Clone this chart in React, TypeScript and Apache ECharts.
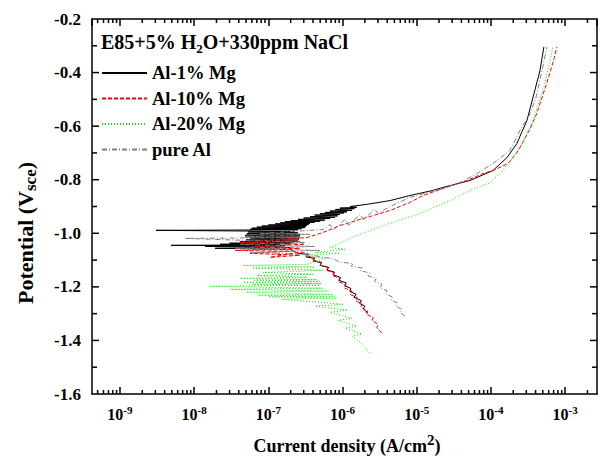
import React, { useEffect, useRef } from "react";
import * as echarts from "echarts";

const FONT = '"Liberation Serif", "Times New Roman", serif';

// axis ranges
const xMin = 4.2e-10;
const xMax = 2.69e-3;
const yMin = -1.6;
const yMax = -0.2;
const yStep = 0.2;

const seriesNames = ["Al-1% Mg", "Al-10% Mg", "Al-20% Mg", "pure Al"];
const seriesColors = ["#000000", "#ff0000", "#00ee00", "#808080"];

// [current density (A/cm2), potential (V_sce)] in scan order
const al1Mg: [number, number][] = [
  [2.2e-6, -1.298], [1.9e-6, -1.282], [2.0e-6, -1.272], [1.7e-6, -1.262], [1.8e-6, -1.252],
  [1.43e-6, -1.239], [1.52e-6, -1.228], [1.25e-6, -1.216], [1.3e-6, -1.206], [1.07e-6, -1.196],
  [1.12e-6, -1.185], [9.0e-7, -1.176], [9.4e-7, -1.165], [7.5e-7, -1.155], [7.8e-7, -1.145],
  [6.2e-7, -1.137], [6.5e-7, -1.127], [5.0e-7, -1.12], [5.2e-7, -1.11], [4.0e-7, -1.103],
  [4.2e-7, -1.094], [3.21e-7, -1.088], [3.42e-7, -1.079], [2.51e-7, -1.075], [1.96e-7, -1.06],
  [1.91e-8, -1.056], [1.96e-7, -1.053], [1.4e-8, -1.049], [1.67e-7, -1.047], [4.87e-9, -1.045],
  [1.43e-7, -1.043], [2.23e-8, -1.041], [1.96e-7, -1.039], [3.0e-8, -1.037], [2.2e-7, -1.035],
  [4.14e-8, -1.032], [2.51e-7, -1.029], [5.0e-8, -1.025], [2.6e-7, -1.021],
  [5.65e-8, -1.018], [2.67e-7, -1.016], [4.84e-8, -1.013], [2.67e-7, -1.01], [4.9e-8, -1.007],
  [2.67e-7, -1.004], [5.15e-8, -1.001], [2.5e-7, -0.998], [5.3e-8, -0.995], [2.28e-7, -0.993],
  [3.06e-9, -0.989], [2.51e-7, -0.987], [5.65e-8, -0.985], [2.8e-7, -0.983], [6.0e-8, -0.981],
  [3.11e-7, -0.979], [7.0e-8, -0.977], [3.2e-7, -0.975], [8.2e-8, -0.973], [3.31e-7, -0.971],
  [1.0e-7, -0.969], [3.5e-7, -0.967], [1.23e-7, -0.965], [3.64e-7, -0.963], [1.45e-7, -0.961],
  [4.2e-7, -0.959], [1.67e-7, -0.957], [5.0e-7, -0.955], [2.0e-7, -0.953], [5.79e-7, -0.951],
  [2.51e-7, -0.948], [6.8e-7, -0.945], [3.0e-7, -0.943], [7.91e-7, -0.941], [3.64e-7, -0.938],
  [8.6e-7, -0.935], [4.2e-7, -0.932], [9.23e-7, -0.93], [4.96e-7, -0.927], [1.05e-6, -0.924],
  [5.8e-7, -0.922], [1.15e-6, -0.92], [6.76e-7, -0.917], [1.34e-6, -0.914], [8.0e-7, -0.911],
  [1.45e-6, -0.908], [9.23e-7, -0.906], [1.56e-6, -0.903], [1.26e-6, -0.9], [2.13e-6, -0.892],
  [4.35e-6, -0.878], [8.09e-6, -0.859], [1.65e-5, -0.84], [2.25e-5, -0.829], [5.21e-5, -0.803],
  [1.06e-4, -0.766], [1.64e-4, -0.718], [2.24e-4, -0.665], [2.62e-4, -0.621], [3.05e-4, -0.58],
  [3.68e-4, -0.494], [4.57e-4, -0.394], [5.18e-4, -0.304],
];

const al10Mg: [number, number][] = [
  [3.4e-6, -1.373], [2.9e-6, -1.352], [3.0e-6, -1.34], [2.5e-6, -1.326], [2.6e-6, -1.314],
  [2.07e-6, -1.302], [2.2e-6, -1.29], [1.75e-6, -1.276], [1.85e-6, -1.264], [1.5e-6, -1.252],
  [1.58e-6, -1.24], [1.26e-6, -1.228], [1.34e-6, -1.216], [1.05e-6, -1.204], [1.12e-6, -1.192],
  [8.7e-7, -1.18], [9.2e-7, -1.168], [7.3e-7, -1.158], [7.7e-7, -1.147], [6.0e-7, -1.138],
  [6.3e-7, -1.127], [4.9e-7, -1.118], [5.2e-7, -1.108], [3.9e-7, -1.1], [4.2e-7, -1.09],
  [3.21e-7, -1.084], [3.42e-7, -1.075], [2.51e-7, -1.071],
  [1.05e-7, -1.09], [2.67e-7, -1.082], [5.65e-8, -1.075],
  [1.96e-7, -1.067], [3.55e-8, -1.064], [2.67e-7, -1.056], [6.59e-8, -1.049], [3.11e-7, -1.041],
  [4.14e-8, -1.034], [2.67e-7, -1.03], [7.71e-8, -1.027], [3.31e-7, -1.016], [5.44e-7, -0.997],
  [9.23e-7, -0.971], [1.56e-6, -0.952], [4.35e-6, -0.915], [8.09e-6, -0.885], [1.21e-5, -0.859],
  [2.25e-5, -0.833], [4.75e-5, -0.803], [7.8e-5, -0.777], [1.06e-4, -0.766], [1.69e-4, -0.74],
  [2.24e-4, -0.699], [2.78e-4, -0.654], [3.36e-4, -0.61], [4.04e-4, -0.561], [4.72e-4, -0.505],
  [5.51e-4, -0.449], [6.24e-4, -0.401], [7.06e-4, -0.349], [7.75e-4, -0.304],
];

const al20Mg: [number, number][] = [
  [2.34e-6, -1.447], [1.72e-6, -1.406], [1.34e-6, -1.384], [1.83e-6, -1.376], [1.08e-6, -1.354],
  [1.56e-6, -1.347], [8.67e-7, -1.325], [1.34e-6, -1.317], [6.76e-7, -1.295], [1.18e-6, -1.287],
  [4.25e-7, -1.272], [1.01e-6, -1.265], [1.52e-7, -1.246], [8.41e-7, -1.242], [1.0e-7, -1.237],
  [8.0e-7, -1.235], [7.24e-8, -1.231], [7.43e-7, -1.228], [5.0e-8, -1.22], [6.5e-7, -1.216],
  [3.04e-8, -1.209], [5.44e-7, -1.205], [1.63e-8, -1.198], [4.96e-7, -1.194], [6.0e-8, -1.19],
  [5.2e-7, -1.187], [4.55e-8, -1.183], [4.96e-7, -1.179], [6.5e-8, -1.175], [4.5e-7, -1.172],
  [4.14e-8, -1.168], [3.31e-7, -1.164], [7.0e-8, -1.158], [4.0e-7, -1.153], [8.46e-8, -1.146],
  [5.44e-7, -1.138], [6.0e-8, -1.13], [4.2e-7, -1.126], [4.55e-8, -1.12], [3.31e-7, -1.116],
  [5.79e-7, -1.094], [3.11e-7, -1.082], [9.23e-7, -1.075], [4.25e-7, -1.071], [1.08e-6, -1.06],
  [6.76e-7, -1.053], [1.56e-6, -1.008], [4.35e-6, -0.963], [1.1e-5, -0.926], [2.8e-5, -0.878],
  [5.21e-5, -0.84], [9.7e-5, -0.811], [1.32e-4, -0.777], [1.98e-4, -0.718], [2.54e-4, -0.673],
  [3.05e-4, -0.628], [3.68e-4, -0.58], [4.3e-4, -0.524], [4.87e-4, -0.479], [5.51e-4, -0.423],
  [6.05e-4, -0.371], [6.85e-4, -0.304],
];

const pureAl: [number, number][] = [
  [6.93e-6, -1.309], [6.0e-6, -1.296], [6.3e-6, -1.284], [5.2e-6, -1.272], [5.5e-6, -1.26],
  [4.5e-6, -1.25], [4.7e-6, -1.238], [3.8e-6, -1.226], [4.0e-6, -1.214], [3.2e-6, -1.203],
  [3.4e-6, -1.19], [2.7e-6, -1.18], [2.85e-6, -1.168], [2.2e-6, -1.159], [2.35e-6, -1.148],
  [1.75e-6, -1.14], [1.85e-6, -1.13], [1.3e-6, -1.122], [1.4e-6, -1.113], [9.23e-7, -1.108],
  [7.5e-7, -1.095], [5.44e-7, -1.09], [3.64e-7, -1.079],
  [5.65e-8, -1.071], [4.96e-7, -1.064], [3.55e-8, -1.056], [4.25e-7, -1.049], [4.14e-8, -1.041],
  [3.11e-7, -1.034], [7.52e-9, -1.019], [2.67e-7, -1.016], [4.84e-8, -1.012], [3.64e-7, -1.004],
  [7.71e-8, -1.001], [5.44e-7, -0.986], [6.76e-7, -0.967], [7.5e-7, -0.989], [1.08e-6, -0.948],
  [1.2e-6, -0.971], [1.72e-6, -0.93], [1.9e-6, -0.948], [2.73e-6, -0.911], [3.0e-6, -0.926],
  [4.35e-6, -0.9], [8.09e-6, -0.866], [2.25e-5, -0.833], [3.82e-5, -0.811], [6.47e-5, -0.777],
  [1.06e-4, -0.74], [1.8e-4, -0.691], [2.46e-4, -0.617], [3.36e-4, -0.554], [4.04e-4, -0.494],
  [4.87e-4, -0.394], [5.69e-4, -0.304],
];

const seriesData = [al1Mg, al10Mg, al20Mg, pureAl];
const seriesDash: (number[] | "solid")[] = ["solid", [4, 2], [1, 2], [5, 2, 1, 2]];

// tick values
const decadeStarts = [1e-10, 1e-9, 1e-8, 1e-7, 1e-6, 1e-5, 1e-4, 1e-3];
const minorMantissas = [2, 3, 4, 5, 6, 7, 8, 9];
const xMinorTicks: number[] = [];
decadeStarts.forEach((d) =>
  minorMantissas.forEach((m) => {
    const v = m * d;
    if (v > xMin && v < xMax) xMinorTicks.push(v);
  })
);
const yMajorTicks = [-1.4, -1.2, -1.0, -0.8, -0.6, -0.4];
const yMinorTicks = [-1.5, -1.3, -1.1, -0.9, -0.7, -0.5, -0.3];

const TICK_W = 1.5;

function xTickSeries(values: number[], len: number) {
  return {
    type: "custom",
    silent: true,
    clip: false,
    xAxisIndex: 0,
    yAxisIndex: 0,
    z: 100,
    data: values.map((v) => [v, yMin]),
    renderItem: (_p: any, api: any) => {
      const v = api.value(0);
      const b = api.coord([v, yMin]);
      const t = api.coord([v, yMax]);
      return {
        type: "group",
        children: [
          { type: "rect", shape: { x: b[0] - TICK_W / 2, y: b[1] - len, width: TICK_W, height: len }, style: { fill: "#000" } },
          { type: "rect", shape: { x: t[0] - TICK_W / 2, y: t[1], width: TICK_W, height: len }, style: { fill: "#000" } },
        ],
      };
    },
  };
}

function yTickSeries(values: number[], len: number) {
  return {
    type: "custom",
    silent: true,
    clip: false,
    xAxisIndex: 0,
    yAxisIndex: 0,
    z: 100,
    data: values.map((v) => [xMin, v]),
    renderItem: (_p: any, api: any) => {
      const v = api.value(1);
      const l = api.coord([xMin, v]);
      const r = api.coord([xMax, v]);
      return {
        type: "group",
        children: [
          { type: "rect", shape: { x: l[0], y: l[1] - TICK_W / 2, width: len, height: TICK_W }, style: { fill: "#000" } },
          { type: "rect", shape: { x: r[0] - len, y: r[1] - TICK_W / 2, width: len, height: TICK_W }, style: { fill: "#000" } },
        ],
      };
    },
  };
}

export default function App() {
  const ref = useRef<HTMLDivElement>(null);
  useEffect(() => {
    const chart = echarts.init(ref.current!, null, { renderer: "svg" });
    const axisLine = { show: true, onZero: false, lineStyle: { color: "#000", width: 1.5 } };
    const xLabelRich = {
      b: { fontFamily: FONT, fontWeight: "bold", fontSize: 16, color: "#000", verticalAlign: "middle" },
      s: { fontFamily: FONT, fontWeight: "bold", fontSize: 11, color: "#000", verticalAlign: "middle", padding: [0, 0, 10, 0] },
    };
    const xAxisBase = {
      type: "log",
      logBase: 10,
      min: xMin,
      max: xMax,
      axisLine,
      axisTick: { show: true, inside: true, length: 7, lineStyle: { color: "#000", width: 1.5 } },
      minorTick: { show: false },
      splitLine: { show: false },
    };
    const yAxisBase = {
      type: "value",
      min: yMin,
      max: yMax,
      interval: yStep,
      axisLine,
      axisTick: { show: false },
      minorTick: { show: false },
      splitLine: { show: false },
      minorSplitLine: { show: false },
    };
    const option: any = {
      animation: false,
      grid: { left: 92, top: 19, right: 5, bottom: 73, outerBoundsMode: "none" },
      xAxis: [
        {
          ...xAxisBase,
          position: "bottom",
          axisLabel: {
            margin: 10,
            showMinLabel: false,
            showMaxLabel: false,
            formatter: (v: number) => `{b|10}{s|${Math.round(Math.log10(v))}}`,
            rich: xLabelRich,
          },
        },
        { ...xAxisBase, position: "top", axisLabel: { show: false } },
      ],
      yAxis: [
        {
          ...yAxisBase,
          position: "left",
          axisLabel: {
            margin: 11,
            formatter: (v: number) => v.toFixed(1),
            fontFamily: FONT,
            fontWeight: "bold",
            fontSize: 17,
            color: "#000",
          },
        },
        { ...yAxisBase, position: "right", axisLabel: { show: false } },
      ],
      legend: {
        data: seriesNames,
        orient: "vertical",
        left: 96,
        top: 58,
        itemWidth: 45,
        itemHeight: 14,
        itemGap: 5.5,
        itemStyle: { opacity: 0 },
        textStyle: { fontFamily: FONT, fontWeight: "bold", fontSize: 18.5, lineHeight: 20, color: "#000" },
      },
      graphic: [
        {
          type: "text",
          x: 101,
          y: 42,
          style: {
            text: "{a|E85+5% H}{s|2}{a|O+330ppm NaCl}",
            rich: {
              a: { fontFamily: FONT, fontWeight: "bold", fontSize: 20, fill: "#000", verticalAlign: "middle" },
              s: { fontFamily: FONT, fontWeight: "bold", fontSize: 13, fill: "#000", verticalAlign: "middle", padding: [12, 0, 0, 0] },
            },
            align: "left",
            verticalAlign: "middle",
          },
        },
        {
          type: "text",
          x: 347,
          y: 446,
          style: {
            text: "{a|Current density (A/cm}{s|2}{a|)}",
            rich: {
              a: { fontFamily: FONT, fontWeight: "bold", fontSize: 18, fill: "#000", verticalAlign: "middle" },
              s: { fontFamily: FONT, fontWeight: "bold", fontSize: 15, fill: "#000", verticalAlign: "middle", padding: [0, 0, 12, 0] },
            },
            align: "center",
            verticalAlign: "middle",
          },
        },
        {
          type: "text",
          x: 25,
          y: 233,
          rotation: Math.PI / 2,
          style: {
            text: "{a|Potential (V}{s|sce}{a|)}",
            rich: {
              a: { fontFamily: FONT, fontWeight: "bold", fontSize: 22, fill: "#000", verticalAlign: "middle" },
              s: { fontFamily: FONT, fontWeight: "bold", fontSize: 17, fill: "#000", verticalAlign: "middle", padding: [11, 0, 0, 0] },
            },
            align: "center",
            verticalAlign: "middle",
          },
        },
      ],
      series: [
        ...seriesNames.map((name, i) => ({
          name,
          type: "line",
          data: seriesData[i],
          xAxisIndex: 0,
          yAxisIndex: 0,
          symbol: "none",
          showSymbol: false,
          silent: true,
          lineStyle: { color: seriesColors[i], width: 1, type: seriesDash[i] },
          itemStyle: { color: seriesColors[i] },
        })),
        xTickSeries(xMinorTicks, 4),
        yTickSeries(yMajorTicks, 7),
        yTickSeries(yMinorTicks, 5),
      ],
    };
    chart.setOption(option);
    return () => chart.dispose();
  }, []);
  return (
    <div
      ref={ref}
      style={{ position: "absolute", left: 0, top: 0, width: 602, height: 467, background: "#fff" }}
    />
  );
}
